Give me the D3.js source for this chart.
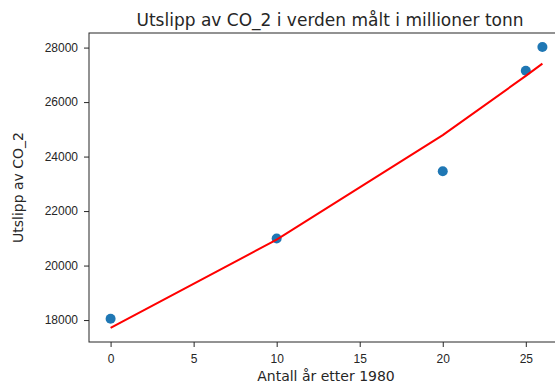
<!DOCTYPE html>
<html>
<head>
<meta charset="utf-8">
<script src="https://cdn.jsdelivr.net/npm/d3@7"></script>
<style>
  body { margin: 0; background: #fff; }
  svg { font-family: "DejaVu Sans", sans-serif; }
  .tick text { fill: #262626; font-size: 12px; }
  .tick line { stroke: #262626; }
</style>
</head>
<body>
<svg id="chart"></svg>
<script>
// Data: years after 1980 and emissions (million tonnes)
const years = [0, 10, 20, 25, 26];
const emissions = [18050, 20990, 23460, 27150, 28020];
const fitted = [17710, 20950, 24790, 26960, 27410];
const xTicks = [0, 5, 10, 15, 20, 25];
const yTicks = [18000, 20000, 22000, 24000, 26000, 28000];

const width = 555;
const height = 385;
const plotLeft = 89, plotRight = 564, plotTop = 33, plotBottom = 342;

const svg = d3.select("#chart")
  .attr("width", width)
  .attr("height", height);

// matplotlib-like 5% margins
const xExt = d3.extent(years);
const xPad = (xExt[1] - xExt[0]) * 0.05;
const yExt = d3.extent(emissions.concat(fitted));
const yPad = (yExt[1] - yExt[0]) * 0.05;

const xScale = d3.scaleLinear()
  .domain([xExt[0] - xPad, xExt[1] + xPad])
  .range([plotLeft, plotRight]);

const yScale = d3.scaleLinear()
  .domain([yExt[0] - yPad, yExt[1] + yPad])
  .range([plotBottom, plotTop]);

// Axes
svg.append("g")
  .attr("transform", `translate(0, ${plotBottom})`)
  .call(d3.axisBottom(xScale).tickValues(xTicks).tickSize(5).tickPadding(7).tickFormat(d3.format("d")))
  .call(g => g.select(".domain").remove());

svg.append("g")
  .attr("transform", `translate(${plotLeft}, 0)`)
  .call(d3.axisLeft(yScale).tickValues(yTicks).tickSize(5).tickPadding(6).tickFormat(d3.format("d")))
  .call(g => g.select(".domain").remove());

// Frame
svg.append("rect")
  .attr("x", plotLeft)
  .attr("y", plotTop)
  .attr("width", plotRight - plotLeft)
  .attr("height", plotBottom - plotTop)
  .attr("fill", "none")
  .attr("stroke", "#262626")
  .attr("stroke-width", 1);

// Points
svg.selectAll(".dot")
  .data(years)
  .enter()
  .append("circle")
  .attr("class", "dot")
  .attr("cx", d => xScale(d))
  .attr("cy", (d, i) => yScale(emissions[i]))
  .attr("r", 5)
  .attr("fill", "#1f77b4");

// Fitted line
const line = d3.line()
  .x(d => xScale(d))
  .y((d, i) => yScale(fitted[i]));

svg.append("path")
  .datum(years)
  .attr("d", line)
  .attr("fill", "none")
  .attr("stroke", "red")
  .attr("stroke-width", 2);

// Title and labels
svg.append("text")
  .attr("x", 330)
  .attr("y", 26)
  .attr("text-anchor", "middle")
  .attr("font-size", 17)
  .attr("fill", "#262626")
  .text("Utslipp av CO_2 i verden målt i millioner tonn");

svg.append("text")
  .attr("x", 326)
  .attr("y", 381)
  .attr("text-anchor", "middle")
  .attr("font-size", 14)
  .attr("fill", "#262626")
  .text("Antall år etter 1980");

svg.append("text")
  .attr("transform", `translate(23, ${(plotTop + plotBottom) / 2}) rotate(-90)`)
  .attr("text-anchor", "middle")
  .attr("font-size", 14)
  .attr("fill", "#262626")
  .text("Utslipp av CO_2");
</script>
</body>
</html>
